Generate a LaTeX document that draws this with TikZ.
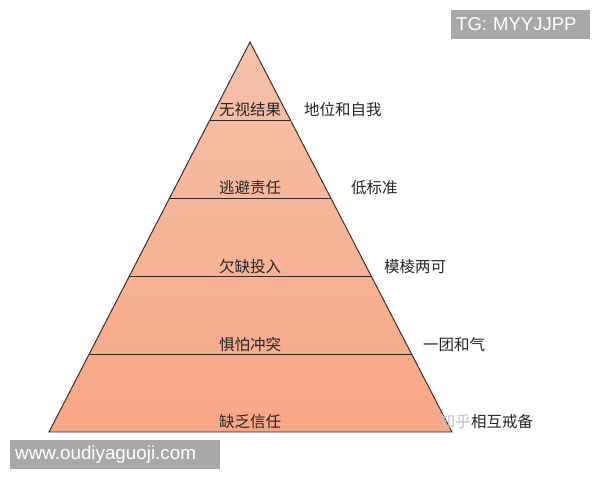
\documentclass[tikz,border=0pt]{standalone}
\usepackage{fontspec}
\setmainfont{Noto Sans CJK SC}
\newfontfamily\wmfont{Liberation Sans}
\usetikzlibrary{calc}

\definecolor{peachtop}{RGB}{244,194,170}
\definecolor{peachbot}{RGB}{247,166,132}
\definecolor{edgebrown}{RGB}{58,40,32}
\definecolor{wmgray}{RGB}{168,168,168}

\begin{document}
\begin{tikzpicture}[x=1pt, y=-1pt, inner sep=0pt, font=\fontsize{15.5}{18}\selectfont,
    lvl/.style={text=black!85},
    wmbox/.style={fill=wmgray, text=white, anchor=west, align=left, inner xsep=5pt, inner ysep=0pt, minimum height=29pt}]
    \useasboundingbox (0,0) rectangle (600,480);

    \coordinate (apex) at (250,42);
    \coordinate (bl) at (49,432);
    \coordinate (br) at (452,432);

    \shade [top color=peachtop, bottom color=peachbot] (apex) -- (bl) -- (br) -- cycle;
    \draw [edgebrown, line width=0.95pt, line join=miter] (apex) -- (bl) -- (br) -- cycle;

    \foreach \t in {0.2, 0.4, 0.6, 0.8} {%
        \draw [edgebrown, line width=0.95pt] ($(apex)!\t!(bl)$) -- ($(apex)!\t!(br)$);
    }

    \foreach \y/\inner/\xr/\outer [count=\i] in {110/无视结果/304/地位和自我, 188/逃避责任/351/低标准,
            267/欠缺投入/384/模棱两可, 345/惧怕冲突/423/一团和气, 422/缺乏信任/471/相互戒备} {%
        \node [lvl] (lvl\i) at (250,\y) {\inner};
        \node [lvl, anchor=west] (res\i) at (\xr,\y) {\outer};
    }
    \node [text=black!25, anchor=east] (zhihu) at (res5.west) {知乎};

    % watermarks
    \node [wmbox, text width=129pt, font=\wmfont\fontsize{18.5}{20}\selectfont] (tg) at (451,24.5) {TG: MYYJJPP};
    \node [wmbox, text width=200pt, font=\wmfont\fontsize{18.8}{20}\selectfont] (site) at (10,454.5) {www.oudiyaguoji.com};
\end{tikzpicture}
\end{document}
